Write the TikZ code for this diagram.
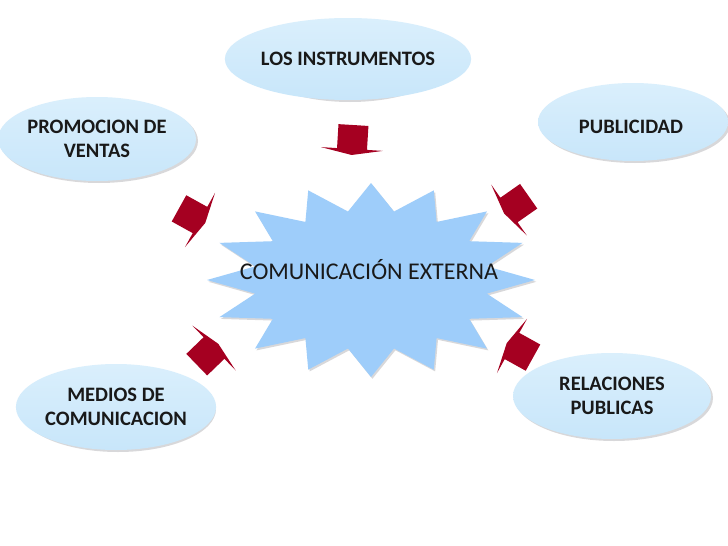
\documentclass[tikz,border=0pt]{standalone}
\usepackage{fontspec}
\setmainfont{Carlito}
\usetikzlibrary{shapes.geometric}
\definecolor{starblue}{RGB}{158,205,250}
\definecolor{elltop}{RGB}{218,239,252}
\definecolor{ellbot}{RGB}{200,230,250}
\definecolor{arrred}{RGB}{165,0,33}
\definecolor{shadowgray}{RGB}{170,170,175}
\tikzset{
  bubble/.style={ellipse, inner sep=0pt, top color=elltop, bottom color=ellbot,
    font=\fontsize{20.5}{24}\selectfont\bfseries, align=center, text=black!90},
  bubtext/.style={font=\fontsize{20.5}{24}\selectfont\bfseries, align=center, text=black!90, inner sep=0pt},
  bubshadow/.style={ellipse, inner sep=0pt, fill=shadowgray, opacity=0.45},
  blockarrow/.style={fill=arrred},
}
\newcommand{\blockarrowat}[3]{%
  \begin{scope}[shift={(#1,#2)}, rotate=-#3]
    \fill[blockarrow] (-24,-15) -- (0,-15) -- (0,-31) -- (6,0) -- (0,31) -- (0,15) -- (-24,15) -- cycle;
  \end{scope}}
\newcommand{\starpath}{%
    (90:164 and 97) \foreach \k in {1,...,32} {
      -- ({90-11.25*\k}:{164*(mod(\k,2)==1 ? 0.72 : 1)} and {97*(mod(\k,2)==1 ? 0.72 : 1)}) } -- cycle}
\begin{document}
\begin{tikzpicture}[x=1pt,y=-1pt]
  \useasboundingbox (0,0) rectangle (728,546);
  \fill[white] (0,0) rectangle (728,546);
  % star shadow
  \begin{scope}[shift={(372.4,281.8)}]
    \fill[shadowgray, opacity=0.45] \starpath;
  \end{scope}
  % star
  \begin{scope}[shift={(371,280)}]
    \fill[starblue] \starpath;
  \end{scope}
  \node[font=\fontsize{24}{28}\selectfont, text=black!90] (centre) at (369,270) {COMUNICACIÓN EXTERNA};

  % bubbles shadows
  \node[bubshadow, minimum width=196pt, minimum height=82pt] at (350,61) {};
  \node[bubshadow, minimum width=198pt, minimum height=84pt] at (99,141) {};
  \node[bubshadow, minimum width=190pt, minimum height=78pt] at (635,124) {};
  \node[bubshadow, minimum width=196pt, minimum height=86pt] at (118,409) {};
  \node[bubshadow, minimum width=198pt, minimum height=86pt] at (614,398) {};
  % bubbles
  \node[bubble, minimum width=196pt, minimum height=82pt] (instr) at (348,59) {LOS INSTRUMENTOS};
  \node[bubble, minimum width=198pt, minimum height=84pt] (promo) at (97,139) {PROMOCION DE\\VENTAS};
  \node[bubble, minimum width=190pt, minimum height=78pt] (publi) at (633,122) {};
  \node[bubtext] (publitext) at (631,127) {PUBLICIDAD};
  \node[bubble, minimum width=196pt, minimum height=86pt] (medios) at (116,407) {MEDIOS DE\\COMUNICACION};
  \node[bubble, minimum width=198pt, minimum height=86pt] (rel) at (612,396) {RELACIONES\\PUBLICAS};

  % block arrows
  \blockarrowat{352}{149}{93.5}
  \blockarrowat{200}{220}{29}
  \blockarrowat{509}{210}{145}
  \blockarrowat{214}{348}{-44}
  \blockarrowat{512}{346}{209}
\end{tikzpicture}
\end{document}
